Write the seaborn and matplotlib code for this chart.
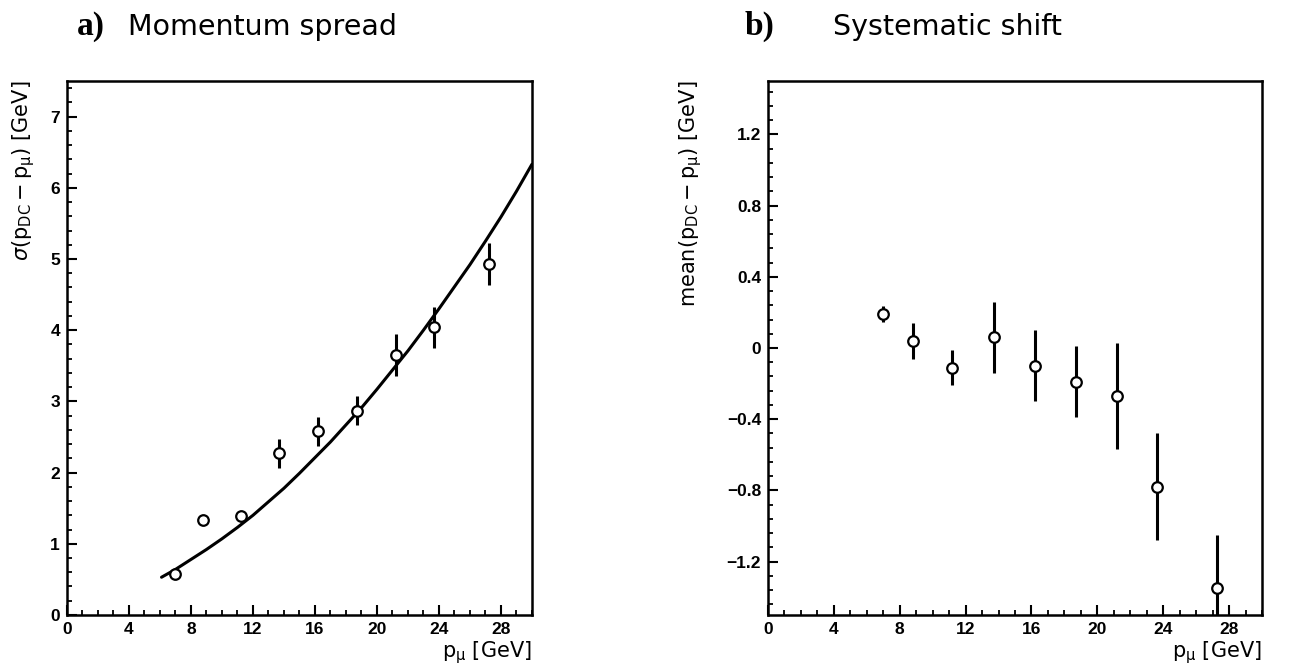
import numpy as np
import pandas as pd
import seaborn as sns
import matplotlib.pyplot as plt
from matplotlib.ticker import MultipleLocator

# momentum bins (GeV)
p_mu = [7.0, 8.8, 11.2, 13.7, 16.2, 18.7, 21.2, 23.65, 27.25]

# a) momentum spread
sigma = [0.58, 1.34, 1.39, 2.27, 2.58, 2.87, 3.65, 4.04, 4.93]
sigma_err = [0.05, 0.07, 0.07, 0.20, 0.20, 0.20, 0.30, 0.29, 0.30]

# fitted curve
fit_x = [6.1, 7, 8, 9, 10, 11, 12, 13, 14, 15, 16, 17, 18, 19, 20, 21, 22, 23, 24, 25, 26, 27, 28, 29, 30]
fit_y = [0.53, 0.64, 0.78, 0.92, 1.07, 1.23, 1.40, 1.59, 1.78, 1.99, 2.21, 2.43, 2.67, 2.91, 3.17, 3.44, 3.71, 4.00, 4.30, 4.61, 4.92, 5.25, 5.59, 5.95, 6.33]

# b) systematic shift
shift = [0.19, 0.04, -0.11, 0.06, -0.10, -0.19, -0.27, -0.78, -1.35]
shift_err = [0.045, 0.10, 0.10, 0.20, 0.20, 0.20, 0.30, 0.30, 0.30]

sns.set_theme(style="ticks")
plt.rcParams['font.family'] = ['DejaVu Sans']
plt.rcParams['mathtext.fontset'] = 'dejavusans'
for k in ['text.color', 'axes.labelcolor', 'xtick.color', 'ytick.color', 'axes.edgecolor']:
    plt.rcParams[k] = 'black'

fig = plt.figure(figsize=(13.16, 6.71), dpi=100)
ax1 = fig.add_axes([0.0509, 0.0835, 0.3533, 0.7958])
ax2 = fig.add_axes([0.5836, 0.0835, 0.3754, 0.7958])

df_a = pd.DataFrame({'p': p_mu, 'v': sigma, 'e': sigma_err})
df_b = pd.DataFrame({'p': p_mu, 'v': shift, 'e': shift_err})
df_fit = pd.DataFrame({'p': fit_x, 'v': fit_y})

sns.lineplot(data=df_fit, x='p', y='v', ax=ax1, color='black', lw=2.2)

for ax, df in [(ax1, df_a), (ax2, df_b)]:
    ax.errorbar(df['p'], df['v'], yerr=df['e'], fmt='none', ecolor='black',
                elinewidth=2.2, capsize=0, zorder=2)
    sns.scatterplot(data=df, x='p', y='v', ax=ax, marker='o', s=58,
                    facecolor='white', edgecolor='black', linewidth=1.6, zorder=3)

ax1.set_xlim(0, 30)
ax1.set_ylim(0, 7.5)
ax1.yaxis.set_major_locator(MultipleLocator(1))
ax1.yaxis.set_minor_locator(MultipleLocator(0.2))

ax2.set_xlim(0, 30)
ax2.set_ylim(-1.5, 1.5)
ax2.yaxis.set_minor_locator(MultipleLocator(0.08))
ax2.set_yticks([-1.2, -0.8, -0.4, 0, 0.4, 0.8, 1.2])
ax2.set_yticklabels(['\u22121.2', '\u22120.8', '\u22120.4', '0', '0.4', '0.8', '1.2'])

for ax in (ax1, ax2):
    ax.xaxis.set_major_locator(MultipleLocator(4))
    ax.xaxis.set_minor_locator(MultipleLocator(1))
    for s in ax.spines.values():
        s.set_visible(True)
        s.set_linewidth(1.8)
        s.set_color('black')
    ax.tick_params(which='major', direction='in', length=7, width=1.5,
                   top=False, right=False, pad=5, colors='black')
    ax.tick_params(which='minor', direction='in', length=3.5, width=1.3,
                   top=False, right=False, colors='black')
    for lab in ax.get_xticklabels() + ax.get_yticklabels():
        lab.set_fontfamily('Liberation Sans')
        lab.set_fontweight('bold')
        lab.set_fontsize(12.5)
    ax.set_xlabel(r'$\mathrm{p_{\mu}}$ [GeV]', fontsize=15, loc='right')
    ax.xaxis.set_label_coords(1.0, -0.045)

ax1.set_ylabel(r'$\sigma(\mathrm{p_{DC}-p_{\mu}})$ [GeV]', fontsize=15, loc='top')
ax1.yaxis.set_label_coords(-0.065, 1.0)
ax2.set_ylabel(r'mean$(\mathrm{p_{DC}-p_{\mu}})$ [GeV]', fontsize=15, loc='top')
ax2.yaxis.set_label_coords(-0.13, 1.0)

fig.text(0.0585, 0.948, 'a)', family='Liberation Serif', weight='bold',
         fontsize=24, va='baseline')
fig.text(0.0973, 0.948, 'Momentum spread', fontsize=20.5, va='baseline')
fig.text(0.566, 0.948, 'b)', family='Liberation Serif', weight='bold',
         fontsize=24, va='baseline')
fig.text(0.633, 0.948, 'Systematic shift', fontsize=20.5, va='baseline')

fig.savefig('out.png', dpi=100)
